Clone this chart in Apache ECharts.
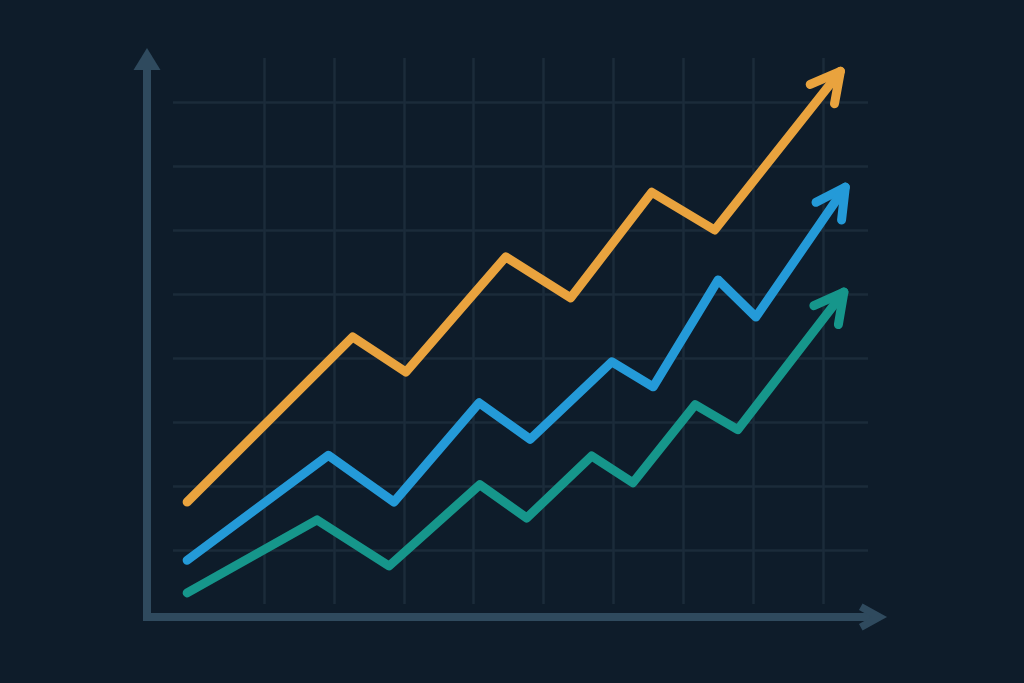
<!DOCTYPE html>
<html>
<head>
<meta charset="utf-8">
<script src="https://cdn.jsdelivr.net/npm/echarts@6/dist/echarts.min.js"></script>
<style>
html,body{margin:0;padding:0;background:#0e1c2a;}
#c{width:1024px;height:683px;}
</style>
</head>
<body>
<div id="c"></div>
<script>
// Data (x in grid-column units, y in value units)
var orangeX = [-1.10, 1.27, 2.03, 3.46, 4.39, 5.55, 6.45, 8.25];
var orangeY = [7.5, 33.3, 27.8, 45.8, 39.4, 55.9, 50.0, 74.8];
var blueX = [-1.10, 0.92, 1.86, 3.08, 3.81, 4.98, 5.57, 6.50, 7.04, 8.32];
var blueY = [-1.6, 14.8, 7.5, 23.0, 17.3, 29.4, 25.5, 42.2, 36.4, 56.7];
var tealX = [-1.10, 0.76, 1.79, 3.09, 3.76, 4.69, 5.28, 6.17, 6.78, 8.30];
var tealY = [-6.7, 4.7, -2.5, 10.2, 5.0, 14.7, 10.5, 22.7, 18.8, 40.3];

var colors = {orange:'#e9a33e', blue:'#249ad8', teal:'#16968b'};
var axisTri = 'path://M13.5 0 L27 22 L0 22 Z';
var axisChev = 'path://M14 0 L27.6 24.5 L21 28.1 L14 15.5 L7 28.1 L0.4 24.5 Z';

function pairs(xs, ys){ return xs.map(function(x,i){ return [x, ys[i]]; }); }

var seriesDefs = [
  {name:'Orange', xs:orangeX, ys:orangeY, color:colors.orange},
  {name:'Blue', xs:blueX, ys:blueY, color:colors.blue},
  {name:'Teal', xs:tealX, ys:tealY, color:colors.teal}
];

var LW = 9;
var series = [];
seriesDefs.forEach(function(s){
  series.push({
    name:s.name, type:'line', xAxisIndex:3, yAxisIndex:3,
    data:pairs(s.xs, s.ys), showSymbol:false, clip:false, silent:true,
    itemStyle:{color:s.color},
    lineStyle:{color:s.color, width:LW, cap:'round', join:'round'}
  });
});
seriesDefs.forEach(function(s){
  var n = s.xs.length;
  series.push({
    name:s.name + ' head', type:'custom', xAxisIndex:3, yAxisIndex:3, silent:true, clip:false,
    data:[[s.xs[n-2], s.ys[n-2], s.xs[n-1], s.ys[n-1]]],
    encode:{x:[0,2], y:[1,3]},
    renderItem:function(params, api){
      var a = api.coord([api.value(0), api.value(1)]);
      var b = api.coord([api.value(2), api.value(3)]);
      var ang = Math.atan2(b[1]-a[1], b[0]-a[0]) + Math.PI;
      var L = 33, h = 28 * Math.PI / 180;
      var p1 = [b[0] + L*Math.cos(ang - h), b[1] + L*Math.sin(ang - h)];
      var p2 = [b[0] + L*Math.cos(ang + h), b[1] + L*Math.sin(ang + h)];
      return {type:'polyline', shape:{points:[p1, b, p2]},
              style:{stroke:s.color, fill:null, lineWidth:LW, lineCap:'round', lineJoin:'round'}};
    }
  });
});

var chart = echarts.init(document.getElementById('c'));
var axisColor = '#2f4a5e', gridColor = '#1b2b3a';
chart.setOption({
  backgroundColor:'#0e1c2a',
  animation:false,
  grid:[
    {left:147, right:151, top:59, bottom:66},
    {left:264, right:201, top:58, bottom:79},
    {left:173, right:156, top:102, bottom:133},
    {left:180.15, right:166.1, top:38, bottom:69}
  ],
  xAxis:[
    {gridIndex:0, type:'value', min:0, max:1, axisLine:{show:true, symbol:['none', axisChev], symbolSize:[27.2,28.1], lineStyle:{color:axisColor, width:8, cap:'square'}}, axisTick:{show:false}, axisLabel:{show:false}, splitLine:{show:false}},
    {gridIndex:1, type:'value', min:0, max:8, interval:1, axisLine:{show:false}, axisTick:{show:false}, axisLabel:{show:false}, splitLine:{show:true, showMinLine:true, showMaxLine:true, lineStyle:{color:gridColor, width:2.5}}},
    {gridIndex:2, type:'value', min:0, max:1, show:false},
    {gridIndex:3, type:'value', min:-1.2, max:8.5, show:false}
  ],
  yAxis:[
    {gridIndex:0, type:'value', min:0, max:1, axisLine:{show:true, symbol:['none', axisTri], symbolSize:[27,22], lineStyle:{color:axisColor, width:8, cap:'square'}}, axisTick:{show:false}, axisLabel:{show:false}, splitLine:{show:false}},
    {gridIndex:1, type:'value', min:0, max:1, show:false},
    {gridIndex:2, type:'value', min:0, max:7, interval:1, axisLine:{show:false}, axisTick:{show:false}, axisLabel:{show:false}, splitLine:{show:true, showMinLine:true, showMaxLine:true, lineStyle:{color:gridColor, width:2.5}}},
    {gridIndex:3, type:'value', min:-10, max:80, show:false}
  ],
  series: series
});
</script>
</body>
</html>
